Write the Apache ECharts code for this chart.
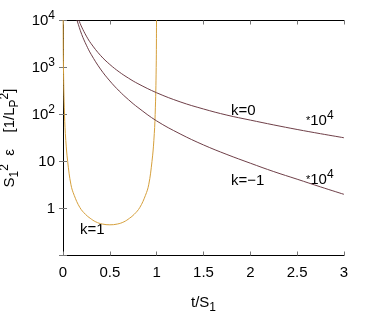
<!DOCTYPE html>
<html>
<head>
<meta charset="utf-8">
<script src="https://cdn.jsdelivr.net/npm/echarts@6/dist/echarts.min.js"></script>
<style>
html, body { margin: 0; padding: 0; background: #fff; }
#main { width: 374px; height: 327px; }
</style>
</head>
<body>
<div id="main"></div>
<script>
// k=1 (closed)
var tK1   = [0.001, 0.0016, 0.005, 0.016, 0.03, 0.05, 0.085, 0.12, 0.18, 0.24, 0.29, 0.35, 0.42, 0.5,
             0.58, 0.65, 0.71, 0.76, 0.82, 0.88, 0.915, 0.95, 0.97, 0.984, 0.995, 0.9984, 0.999];
var epsK1 = [25000, 10000, 1000, 100, 28, 10, 3.2, 1.9, 1.05, 0.75, 0.62, 0.52, 0.467, 0.45,
             0.467, 0.52, 0.62, 0.75, 1.05, 1.9, 3.2, 10, 28, 100, 1000, 10000, 25000];
// k=0 (flat), *10^4
var tK0   = [0.15, 0.167, 0.2, 0.25, 0.3, 0.4, 0.5, 0.6, 0.7, 0.8, 1.0, 1.25, 1.5, 1.75, 2.0, 2.25, 2.5, 2.75, 3.0];
var epsK0 = [12900, 10400, 7250, 4640, 3220, 1810, 1160, 805, 592, 453, 290, 186, 131, 97, 76, 60, 48, 39, 32];
// k=-1 (open), *10^4
var tKm1   = [0.14, 0.15, 0.2, 0.25, 0.3, 0.4, 0.5, 0.6, 0.7, 0.8, 1.0, 1.25, 1.5, 1.75, 2.0, 2.25, 2.5, 2.75, 3.0];
var epsKm1 = [11400, 10000, 5040, 2980, 1910, 927, 518, 316, 206, 141, 73, 38.7, 22.5, 14.1, 9.2, 6.1, 4.2, 2.88, 2.0];

var xTicks = ['0', '0.5', '1', '1.5', '2', '2.5', '3'];

function pairs(xs, ys) {
	return xs.map(function (x, i) { return [x, ys[i]]; });
}

var FONT = 'Liberation Sans';
var sup = { fontSize: 12, fontFamily: FONT, color: '#000', verticalAlign: 'top', lineHeight: 22 };
var sub = { fontSize: 12, fontFamily: FONT, color: '#000', verticalAlign: 'bottom', lineHeight: 22 };
var nor = { fontSize: 15, fontFamily: FONT, color: '#000', verticalAlign: 'middle', lineHeight: 22 };
var star = { fontSize: 11, fontFamily: FONT, color: '#000', verticalAlign: 'middle', lineHeight: 22 };

var myChart = echarts.init(document.getElementById('main'), null, { renderer: 'canvas' });

var axisLine = { show: true, lineStyle: { color: '#000', width: 1 } };
var tick = { inside: true, length: 4, lineStyle: { color: '#777' } };

var option = {
	animation: false,
	backgroundColor: '#fff',
	grid: {
		left: 63,
		right: 30,
		top: 20.5,
		bottom: 71.5,
		outerBoundsMode: 'none',
		containLabel: false,
		show: false
	},
	xAxis: [{
		type: 'value',
		min: 0,
		max: 3,
		interval: 0.5,
		name: '{n|t/S}{sb|1}',
		nameLocation: 'middle',
		nameGap: 36,
		nameTextStyle: { rich: { sb: sub, n: nor } },
		axisLine: axisLine,
		axisTick: tick,
		axisLabel: {
			margin: 10,
			fontSize: 15,
			fontFamily: FONT,
			color: '#000',
			formatter: function (v) { return xTicks[Math.round(v * 2)]; }
		},
		splitLine: { show: false }
	}, {
		type: 'value',
		position: 'top',
		min: 0,
		max: 3,
		interval: 0.5,
		axisLine: axisLine,
		axisTick: tick,
		axisLabel: { show: false },
		splitLine: { show: false }
	}],
	yAxis: [{
		type: 'log',
		logBase: 10,
		min: 0.1,
		max: 10000,
		name: '{n|S}{sb|1}{sp|2}{n|  ε    [1/L}{sb|P}{sp|2}{n|]}',
		nameLocation: 'middle',
		nameRotate: 90,
		nameGap: 36,
		nameTextStyle: { rich: { n: nor, sb: sub, sp: sup } },
		axisLine: axisLine,
		axisTick: tick,
		axisLabel: {
			margin: 8,
			fontSize: 15,
			fontFamily: FONT,
			color: '#000',
			rich: { n: nor, sp: sup },
			formatter: function (v) {
				var e = Math.round(Math.log10(v));
				if (e < 0) return '';
				if (e === 0) return '{n|1}';
				if (e === 1) return '{n|10}';
				return '{n|10}{sp|' + e + '}';
			}
		},
		splitLine: { show: false }
	}, {
		type: 'log',
		logBase: 10,
		min: 0.1,
		max: 10000,
		position: 'right',
		axisLine: axisLine,
		axisTick: tick,
		axisLabel: { show: false },
		splitLine: { show: false }
	}],
	series: [{
		name: 'k=1',
		type: 'line',
		showSymbol: false,
		smooth: 0.4,
		clip: true,
		lineStyle: { color: '#d6a03c', width: 1 },
		data: pairs(tK1, epsK1)
	}, {
		name: 'k=0',
		type: 'line',
		showSymbol: false,
		smooth: 0.4,
		clip: true,
		lineStyle: { color: '#6f3f48', width: 1 },
		data: pairs(tK0, epsK0)
	}, {
		name: 'k=-1',
		type: 'line',
		showSymbol: false,
		smooth: 0.4,
		clip: true,
		lineStyle: { color: '#6f3f48', width: 1 },
		data: pairs(tKm1, epsKm1)
	}],
	graphic: [
		{ type: 'text', left: 231, top: 103, style: { text: 'k=0', font: '15px ' + FONT, fill: '#000' } },
		{ type: 'text', left: 231, top: 173, style: { text: 'k=−1', font: '15px ' + FONT, fill: '#000' } },
		{ type: 'text', left: 80, top: 222, style: { text: 'k=1', font: '15px ' + FONT, fill: '#000' } },
		{ type: 'text', left: 306, top: 110, style: { text: '{s|*}{n|10}{sp|4}', rich: { s: star, n: nor, sp: sup } } },
		{ type: 'text', left: 306, top: 169, style: { text: '{s|*}{n|10}{sp|4}', rich: { s: star, n: nor, sp: sup } } }
	]
};
myChart.setOption(option);
</script>
</body>
</html>
